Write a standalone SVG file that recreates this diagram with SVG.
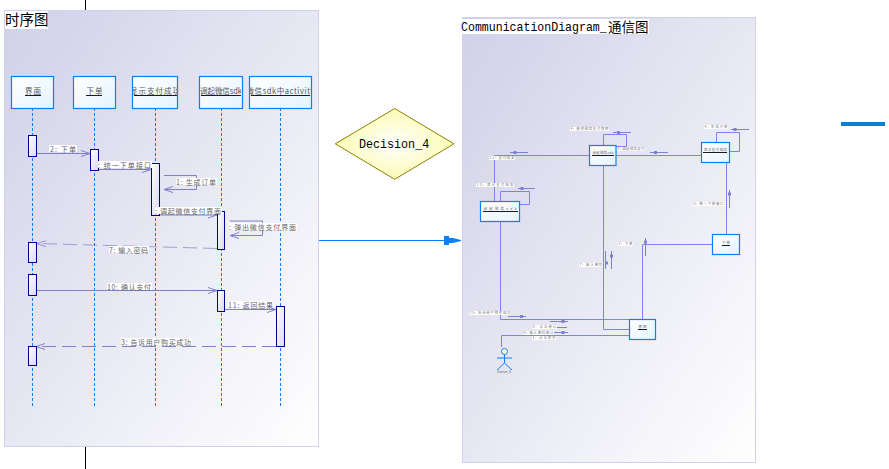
<svg xmlns="http://www.w3.org/2000/svg" width="889" height="469" viewBox="0 0 889 469">
<style>
text{font-family:"Noto Sans CJK SC","Liberation Sans",sans-serif}
.mono{font-family:"Liberation Mono",monospace;font-size:13px}
.frame{stroke:#d0d0ec;stroke-width:1}
.node{fill:url(#nodeFill);stroke:#0a80f8;stroke-width:1.2}
.life{stroke:#0a80f8;stroke-width:1;stroke-dasharray:3 2;fill:none}
.act{fill:url(#actFill);stroke:#000090;stroke-width:1}
.msg{stroke:#8080c8;stroke-width:1;fill:none}
.dash{stroke-dasharray:14 6}
.lab{fill:#fff}
.t8{font-size:7px;fill:#666}
.t4{font-size:3.4px;fill:#777}
.name{font-size:7.500px;fill:#555;text-anchor:middle}
.name2{font-size:3.4px;fill:#666;text-anchor:middle}
.ul{stroke:#000;stroke-width:.9}
.con{stroke:#8080f0;stroke-width:1;fill:none}
.tick{stroke:#8080c8;stroke-width:1;fill:none}
.sq{fill:#8080c8}
</style>
<defs>
<linearGradient id="frameFill" x1="0" y1="0" x2="1" y2="1"><stop offset="0" stop-color="#d0d0e8"/><stop offset="1" stop-color="#ffffff"/></linearGradient>
<linearGradient id="nodeFill" x1="0" y1="0" x2="1" y2="1"><stop offset="0" stop-color="#ffffff"/><stop offset="1" stop-color="#e4f3ff"/></linearGradient>
<linearGradient id="actFill" x1="0" y1="0" x2="1" y2="1"><stop offset="0" stop-color="#ffffff"/><stop offset="1" stop-color="#d8d8f4"/></linearGradient>
<radialGradient id="decFill"><stop offset="0" stop-color="#ffffff"/><stop offset="1" stop-color="#fbfbb4"/></radialGradient>
<marker id="open" markerWidth="10" markerHeight="8" refX="9" refY="4" orient="auto" markerUnits="userSpaceOnUse"><path d="M0 1L9 4L0 7" fill="none" stroke="#8080c8" stroke-width="1"/></marker>
<clipPath id="c1"><rect x="133" y="77" width="44" height="31"/></clipPath>
<clipPath id="c2"><rect x="200" y="77" width="41" height="31"/></clipPath>
<clipPath id="c3"><rect x="250" y="77" width="61" height="31"/></clipPath>
</defs>

<rect class="frame" x="4.500" y="10.500" width="314" height="436" fill="url(#frameFill)"/>
<rect class="frame" x="462.500" y="17.500" width="293" height="445" fill="url(#frameFill)"/>
<path d="M85.500 0V10M85.500 447V469" stroke="#000" stroke-width="1" fill="none"/>
<rect x="841" y="122" width="44" height="4" fill="#0a80d0"/>
<rect x="5" y="11" width="43" height="18" fill="#fff"/>
<text x="5" y="25" font-size="14.500">时序图</text>
<rect x="461" y="19" width="188" height="15" fill="#fff"/>
<text class="mono" transform="translate(461 31) scale(.89 1)">CommunicationDiagram_</text>
<text x="608" y="32" font-size="13.500">通信图</text>

<g id="lifelines">
<path class="life" d="M32.500 108V406M94.500 108V406M155.500 108V406M221.500 108V406M280.500 108V406"/>
</g>

<g id="connectors">
<path class="msg" marker-end="url(#open)" d="M36 153.500H90"/>
<path class="msg" marker-end="url(#open)" d="M98 169.500H151"/>
<path class="msg" marker-end="url(#open)" d="M164 175.500H196.500V189.500H164"/>
<path class="msg" marker-end="url(#open)" d="M159 215H217"/>
<path class="msg" marker-end="url(#open)" d="M230 221H262.500V235.500H230"/>
<path class="msg dash" opacity=".7" marker-end="url(#open)" d="M217 248.500L37 243.500"/>
<path class="msg" marker-end="url(#open)" d="M36 290.500H217"/>
<path class="msg" marker-end="url(#open)" d="M224.500 309.500H276"/>
<path class="msg dash" marker-end="url(#open)" d="M276 346.500H36"/>
<path d="M319 240.500H446" stroke="#0a80f8" stroke-width="1.200" fill="none"/>
<path d="M444 236L449 236L449 238L453 238L461 240L461 241L453 243L449 243L449 245L444 245Z" fill="#0a80f8"/>

<path class="con" d="M589 155.500H494.500V202"/>
<path class="con" d="M603.500 145V134.500H626.500V146.500H616"/>
<path class="con" d="M616 155.500H701"/>
<path class="con" d="M716.500 142V132.500H739.500V151.500H729"/>
<path class="con" d="M726.500 162V234"/>
<path class="con" d="M712 244.500H642.500V319"/>
<path class="con" d="M603.500 165V329.500H629"/>
<path class="con" d="M500.500 221V319.500H629"/>
<path class="con" d="M500.500 202V191.500H529.500V204.500H519"/>
<path class="con" d="M501.500 347V335.500H629"/>
<path class="tick" d="M510 152.500H528M518 188.500H535M613 132.500H631M650 152.500H668M731 129.500H749M729.500 190V208M645.500 238V256M605.500 251V269M611.500 251V269M508 316.500H526M550 321.500H568M544 327.500H567M550 332.500H568"/>
<path class="sq" d="M513.500 151h3v3h-3zM520.500 187h3v3h-3zM617 131h3v3h-3zM654 151h3v3h-3zM733.500 128h3v3h-3zM728 192.500h3v3h-3zM644 240.500h3v3h-3zM605 261.500h3v3h-3zM610 254.500h3v3h-3zM520 315h3v3h-3zM561.500 320h3v3h-3zM553.500 326h3v3h-3zM561.500 331h3v3h-3z"/>
</g>

<g id="n-jiemian"><rect class="node" x="11.500" y="76.500" width="42" height="32"/><text class="name" x="33" y="94" textLength="16">界面</text><path class="ul" d="M25 95.500H41"/>
<rect class="act" x="28.500" y="135.500" width="8" height="21"/><rect class="act" x="28.500" y="242.500" width="8" height="20"/><rect class="act" x="28.500" y="274.500" width="8" height="21"/><rect class="act" x="28.500" y="346.500" width="8" height="19"/></g>
<g id="n-xiadan"><rect class="node" x="73.500" y="76.500" width="42" height="32"/><text class="name" x="94.500" y="94" textLength="16">下单</text><path class="ul" d="M86 95.500H102"/>
<rect class="act" x="90.500" y="149.500" width="8" height="21"/></g>
<g id="n-xianshi"><rect class="node" x="132.500" y="76.500" width="45" height="32"/><text class="name" clip-path="url(#c1)" x="155" y="94" textLength="50">显示支付成功</text><path class="ul" d="M134 95.500H177"/>
<rect class="act" x="151.500" y="163.500" width="8" height="52"/></g>
<g id="n-diaoqi"><rect class="node" x="199.500" y="76.500" width="43" height="32"/><text class="name" clip-path="url(#c2)" x="221" y="94" textLength="42">调起微信sdk</text><path class="ul" d="M201 95.500H241"/>
<rect class="act" x="217.500" y="211.500" width="7" height="38"/><rect class="act" x="217.500" y="290.500" width="7" height="21"/></g>
<g id="n-activity"><rect class="node" x="249.500" y="76.500" width="62" height="32"/><text class="name" clip-path="url(#c3)" x="280.500" y="94" textLength="68">微信sdk中activity</text><path class="ul" d="M251 95.500H310"/>
<rect class="act" x="276.500" y="306.500" width="8" height="40"/></g>

<g id="n-decision"><path d="M394.700 108.500L454 143.800L394.700 179.300L335.300 143.800Z" fill="url(#decFill)" stroke="#8a8000" stroke-width="1"/><text class="mono" transform="translate(359 148) scale(.9 1)">Decision_4</text></g>

<g id="n-c-left"><rect class="node" x="480.500" y="201.500" width="39" height="20"/><text class="name2" x="500" y="210" textLength="33">调起微信sdk</text><path class="ul" d="M483 211.500H518"/></g>
<g id="n-c-mid"><rect class="node" x="589.500" y="145.500" width="26.500" height="20"/><text class="name2" x="603" y="154" textLength="21">调起微信sdk</text><path class="ul" d="M592 155.500H614"/></g>
<g id="n-c-pay"><rect class="node" x="701.500" y="142.500" width="28" height="20"/><text class="name2" x="715.500" y="151" textLength="23">显示支付成功</text><path class="ul" d="M703 152.500H727"/></g>
<g id="n-c-order"><rect class="node" x="712.500" y="234.500" width="27" height="20"/><text class="name2" x="726" y="244" textLength="8">下单</text><path class="ul" d="M722 245.500H730"/></g>
<g id="n-c-ui"><rect class="node" x="629.500" y="319.500" width="26" height="20"/><text class="name2" x="642.500" y="328" textLength="8">界面</text><path class="ul" d="M638 329.500H647"/></g>
<g id="n-c-actor"><circle cx="504.500" cy="351.500" r="3" fill="#ffffc8" stroke="#0a80f8"/><path d="M504.500 354.500V363M497 358H512M504.500 363L497 370M504.500 363L512 370" stroke="#0a80f8" stroke-width="1" fill="none"/><text class="t4" x="497" y="372.500" textLength="14">Human_0</text></g>

<g id="connector-labels">
<rect class="lab" x="49" y="145" width="28" height="7"/><text class="t8" x="50" y="151.500" textLength="26">2: 下单</text>
<rect class="lab" x="98" y="161" width="54" height="7"/><text class="t8" x="98" y="167.500" textLength="53">: 统一下单接口</text>
<rect class="lab" x="176" y="178" width="41" height="7"/><text class="t8" x="176" y="184.500" textLength="40">1: 生成订单</text>
<rect class="lab" x="155" y="207" width="67" height="7"/><text class="t8" x="155" y="213.500" textLength="66">: 调起微信支付界面</text>
<rect class="lab" x="229" y="223" width="68" height="7"/><text class="t8" x="229" y="229.500" textLength="67">: 弹出微信支付界面</text>
<rect class="lab" x="109" y="246" width="40" height="7"/><text class="t8" x="109" y="252.500" textLength="39">7: 输入密码</text>
<rect class="lab" x="107" y="283" width="45" height="7"/><text class="t8" x="107" y="289.500" textLength="44">10: 确认支付</text>
<rect class="lab" x="228" y="301" width="46" height="7"/><text class="t8" x="228" y="307.500" textLength="45">11: 返回结果</text>
<rect class="lab" x="121" y="338" width="71" height="7"/><text class="t8" x="121" y="344.500" textLength="70">3: 告诉用户购买成功</text>
<rect class="lab" x="570" y="127" width="39" height="4"/><text class="t4" x="570.500" y="130.300" textLength="38">4: 播放微信支付界面</text>
<rect class="lab" x="489" y="156" width="26" height="4"/><text class="t4" x="489.500" y="159.300" textLength="25">12: 支付结果</text>
<rect class="lab" x="476" y="183" width="38" height="4"/><text class="t4" x="476.500" y="186.300" textLength="37">13: 显示支付结果</text>
<rect class="lab" x="617" y="147" width="28" height="4"/><text class="t4" x="617.500" y="150.300" textLength="27">5: 调起微信支付</text>
<rect class="lab" x="704" y="125" width="24" height="4"/><text class="t4" x="704.500" y="128.300" textLength="23">4: 生成订单</text>
<rect class="lab" x="693" y="202" width="31" height="4"/><text class="t4" x="693.500" y="205.300" textLength="30">3: 统一下单接口</text>
<rect class="lab" x="618" y="242" width="15" height="4"/><text class="t4" x="618.500" y="245.300" textLength="14">2: 下单</text>
<rect class="lab" x="579" y="263" width="24" height="4"/><text class="t4" x="579.500" y="266.300" textLength="23">7: 输入密码</text>
<rect class="lab" x="469" y="311" width="42" height="4"/><text class="t4" x="469.500" y="314.300" textLength="41">15: 告诉用户购买成功</text>
<rect class="lab" x="532" y="325" width="25" height="4"/><text class="t4" x="532.500" y="328.300" textLength="24">8: 点击确认</text>
<rect class="lab" x="523" y="331" width="31" height="4"/><text class="t4" x="523.500" y="334.300" textLength="30">9: 输入密码确认</text>
<rect class="lab" x="532" y="336" width="24" height="4"/><text class="t4" x="532.500" y="339.300" textLength="23">1: 点击购买</text>
</g>
</svg>
